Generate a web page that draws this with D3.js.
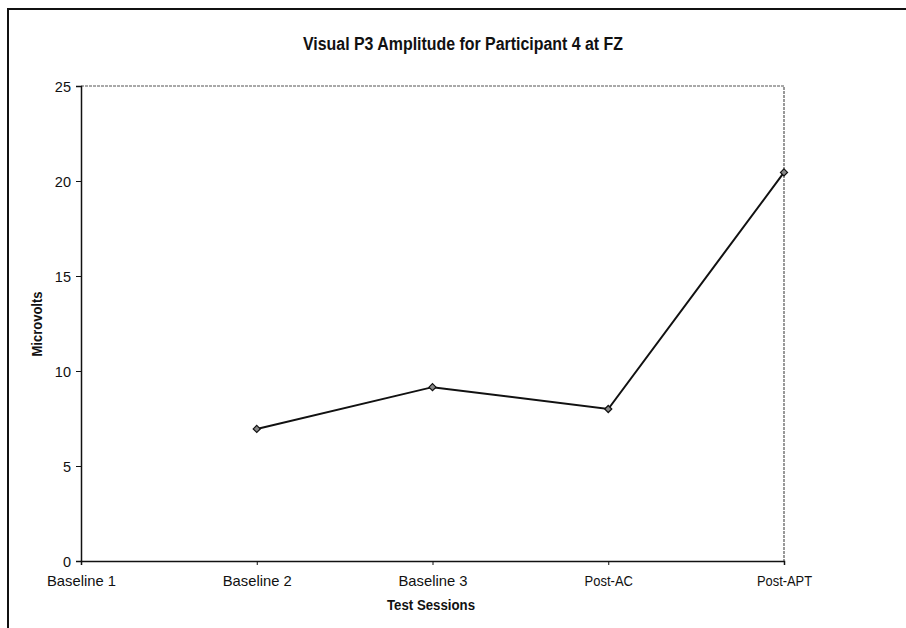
<!DOCTYPE html>
<html>
<head>
<meta charset="utf-8">
<script src="https://cdn.jsdelivr.net/npm/d3@7"></script>
<style>
  body { margin: 0; background: #fff; }
  svg { font-family: "Liberation Sans", Arial, sans-serif; }
</style>
</head>
<body>
<svg id="chart" width="906" height="628"></svg>
<script>
// chart data
const sessions = ["Baseline 1", "Baseline 2", "Baseline 3", "Post-AC", "Post-APT"]
const amplitude = [null, 6.95, 9.15, 8.0, 20.45]
const yTicks = [0, 5, 10, 15, 20, 25]

const svg = d3.select("#chart")

// outer chart frame (cut off at right and bottom in the scan)
svg.append("rect")
   .attr("x", 8).attr("y", 9)
   .attr("width", 920).attr("height", 640)
   .attr("fill", "none")
   .attr("stroke", "#111")
   .attr("stroke-width", 2)

const plot = { left: 81, right: 784, top: 86, bottom: 561 }

const x = d3.scalePoint()
            .domain(sessions)
            .range([plot.left, plot.right])

const y = d3.scaleLinear()
            .domain([0, 25])
            .range([plot.bottom, plot.top])

// plot area border (top and right, grey)
svg.append("path")
   .attr("d", `M${plot.left},${plot.top}H${plot.right}V${plot.bottom}`)
   .attr("fill", "none")
   .attr("stroke", "#555")
   .attr("stroke-width", 1.2)
   .attr("stroke-dasharray", "3,1")

// y axis
const yAxis = svg.append("g")
                 .attr("transform", `translate(${plot.left},0)`)
                 .call(d3.axisLeft(y).tickValues(yTicks).tickSize(5).tickPadding(5))
yAxis.select(".domain").attr("stroke", "#111").attr("stroke-width", 1.5)
yAxis.selectAll(".tick line").attr("stroke", "#111")
yAxis.selectAll("text").attr("font-size", 14.5).attr("fill", "#111")
     .attr("font-family", "Liberation Sans, Arial, sans-serif")
     .attr("dy", "0.38em")

// x axis
const xAxis = svg.append("g")
                 .attr("transform", `translate(0,${plot.bottom})`)
                 .call(d3.axisBottom(x).tickSize(4).tickPadding(11))
xAxis.select(".domain").attr("stroke", "#111").attr("stroke-width", 1.5)
xAxis.selectAll(".tick line").attr("stroke", "#111")
xAxis.selectAll("text").attr("font-size", 14.5).attr("fill", "#111")
     .attr("font-family", "Liberation Sans, Arial, sans-serif")
     .attr("textLength", d => d.length * 6.9)
     .attr("lengthAdjust", "spacingAndGlyphs")

// data line
const pts = sessions.map((s, i) => ({ s, v: amplitude[i] })).filter(d => d.v !== null)

const line = d3.line()
               .x(d => x(d.s))
               .y(d => y(d.v))

svg.append("path")
   .datum(pts)
   .attr("d", line)
   .attr("fill", "none")
   .attr("stroke", "#111")
   .attr("stroke-width", 2)

// diamond markers
svg.selectAll(".marker")
   .data(pts)
   .enter()
   .append("path")
   .attr("class", "marker")
   .attr("d", d3.symbol(d3.symbolDiamond2, 32))
   .attr("transform", d => `translate(${x(d.s)},${y(d.v)})`)
   .attr("fill", "#888")
   .attr("stroke", "#111")
   .attr("stroke-width", 1.2)

// titles
svg.append("text")
   .text("Visual P3 Amplitude for Participant 4 at FZ")
   .attr("x", 463).attr("y", 50)
   .attr("text-anchor", "middle")
   .attr("font-size", 18)
   .attr("font-weight", "bold")
   .attr("textLength", 320)
   .attr("lengthAdjust", "spacingAndGlyphs")
   .attr("fill", "#111")

svg.append("text")
   .text("Test Sessions")
   .attr("x", 431).attr("y", 610)
   .attr("text-anchor", "middle")
   .attr("font-size", 14.5)
   .attr("font-weight", "bold")
   .attr("textLength", 88)
   .attr("lengthAdjust", "spacingAndGlyphs")
   .attr("fill", "#111")

svg.append("text")
   .text("Microvolts")
   .attr("transform", "translate(41.5,324) rotate(-90)")
   .attr("text-anchor", "middle")
   .attr("font-size", 14.5)
   .attr("font-weight", "bold")
   .attr("textLength", 65)
   .attr("lengthAdjust", "spacingAndGlyphs")
   .attr("fill", "#111")
</script>
</body>
</html>
